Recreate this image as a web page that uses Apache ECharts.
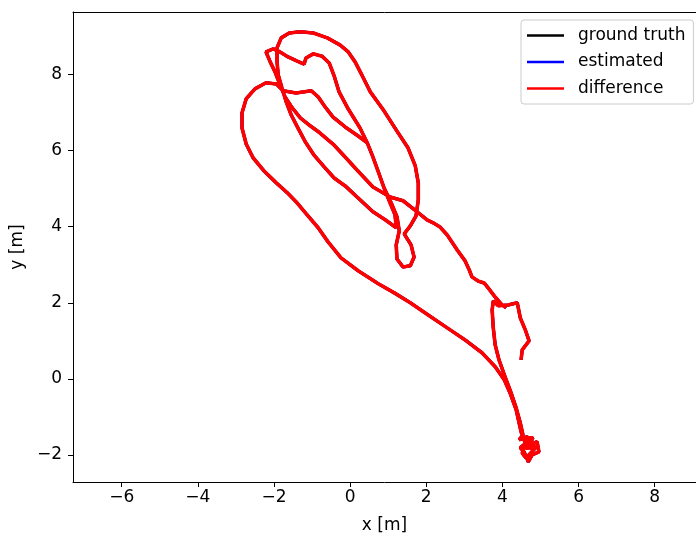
<!DOCTYPE html>
<html>
<head>
<meta charset="utf-8">
<script src="https://cdn.jsdelivr.net/npm/echarts@6/dist/echarts.min.js"></script>
<style>
html,body{margin:0;padding:0;background:#fff;}
#chart{width:696px;height:535px;}
</style>
</head>
<body>
<div id="chart"></div>
<script>
// Tick labels
const xTicks = [-6, -4, -2, 0, 2, 4, 6, 8];
const yTicks = [-2, 0, 2, 4, 6, 8];
const seriesNames = ['ground truth', 'estimated', 'difference'];

// Trajectory segments [x, y] in metres
const segStart = [[4.49,0.50],[4.52,0.76],[4.70,1.00],[4.60,1.29],[4.47,1.60],[4.39,2.00],[4.15,1.94],[3.89,1.92],[3.76,2.05],[3.73,1.81],[3.76,1.34],[3.81,0.89],[3.91,0.50],[4.07,0.05],[4.23,-0.37],[4.36,-0.76],[4.47,-1.16],[4.54,-1.47]];
const segBottom = [[4.44,-1.60],[4.65,-1.52],[4.75,-1.73],[4.91,-1.65],[4.96,-1.92],[4.78,-2.00],[4.68,-2.18],[4.57,-1.92],[4.47,-1.81],[4.73,-1.60],[4.83,-1.87],[4.60,-1.73],[4.52,-1.95],[4.62,-2.08],[4.88,-1.80],[4.70,-1.68],[4.58,-1.55],[4.80,-1.55],[4.66,-1.85],[4.49,-1.39]];
const segDiagonal = [[4.36,-0.81],[4.20,-0.37],[4.05,-0.03],[3.81,0.32],[3.47,0.68],[3.05,1.00],[2.55,1.34],[2.05,1.68],[1.58,2.00],[1.16,2.26],[0.74,2.50],[0.21,2.84],[-0.24,3.18],[-0.58,3.60],[-0.84,3.97],[-1.13,4.31],[-1.39,4.62],[-1.65,4.89],[-1.94,5.15],[-2.26,5.46],[-2.55,5.81],[-2.73,6.17],[-2.84,6.59],[-2.84,6.99],[-2.73,7.36],[-2.50,7.62],[-2.21,7.78],[-1.94,7.75],[-1.76,7.57],[-1.42,7.51],[-1.02,7.57]];
const segInner = [[-0.84,7.41],[-0.66,7.15],[-0.45,6.88],[-0.13,6.62],[0.21,6.38],[0.45,6.20],[0.58,5.88],[0.74,5.44],[0.89,5.02],[1.08,4.62],[1.23,4.26],[1.29,3.89],[1.21,3.52],[1.23,3.15],[1.39,2.94],[1.58,2.97],[1.68,3.20],[1.60,3.52],[1.42,3.81]];
const segOuter = [[1.58,4.02],[1.73,4.28],[1.79,4.70],[1.79,5.15],[1.71,5.60],[1.52,6.07],[1.23,6.51],[0.87,7.07],[0.53,7.54],[0.32,7.96],[0.13,8.33],[-0.05,8.59],[-0.26,8.77],[-0.60,8.96],[-0.97,9.09],[-1.31,9.12],[-1.60,9.09],[-1.81,8.96],[-1.92,8.70],[-1.92,8.33],[-1.89,7.99],[-1.79,7.64],[-1.68,7.28],[-1.55,6.94],[-1.37,6.59],[-1.18,6.23],[-0.95,5.88],[-0.68,5.57],[-0.42,5.28],[-0.13,5.07],[0.18,4.78],[0.60,4.39],[0.92,4.18],[1.21,3.97]];
const segLoop = [[1.18,4.31],[1.05,4.62],[0.89,5.02],[0.74,5.44],[0.58,5.88],[0.45,6.20],[0.26,6.59],[-0.05,7.09],[-0.29,7.54],[-0.42,7.96],[-0.55,8.30],[-0.74,8.48],[-0.97,8.54],[-1.16,8.43],[-1.21,8.27]];
const segHook = [[-1.39,8.35],[-1.63,8.46],[-1.84,8.59],[-2.02,8.67],[-2.21,8.59],[-2.10,8.33],[-1.97,8.06],[-1.84,7.72],[-1.71,7.41],[-1.52,7.12],[-1.31,6.86],[-1.05,6.65],[-0.79,6.46],[-0.45,6.17],[-0.18,5.88],[0.18,5.49],[0.60,5.04]];
const segExit = [[1.05,4.78],[1.39,4.68],[1.76,4.39],[2.02,4.18],[2.18,4.10],[2.36,3.99],[2.55,3.78],[2.81,3.39],[3.02,3.10],[3.13,2.86],[3.20,2.68],[3.36,2.57],[3.52,2.52],[3.65,2.36],[3.81,2.15],[3.99,1.94],[4.10,1.87]];

const groundTruth = [].concat(segStart, segBottom, segDiagonal, segInner, segOuter, segLoop, segHook, segExit);
const estimated = groundTruth;
const difference = groundTruth;

const minus = v => String(v).replace('-', '\u2212');
const font = 'DejaVu Sans';
const FS = 17;

const chart = echarts.init(document.getElementById('chart'), null, {renderer: 'canvas'});
chart.setOption({
  animation: false,
  backgroundColor: '#ffffff',
  textStyle: {fontFamily: font},
  grid: {left: 73, right: 0, top: 12, bottom: 53, show: false, containLabel: false, outerBoundsMode: 'none'},
  legend: {
    orient: 'vertical', left: 521, top: 20,
    padding: [6, 8, 6, 6], itemGap: 7.5, itemWidth: 37, itemHeight: 2.5,
    backgroundColor: 'rgba(255,255,255,0.8)', borderColor: '#cccccc', borderWidth: 1, borderRadius: 3,
    textStyle: {fontFamily: font, fontSize: FS, color: '#000', lineHeight: 19, padding: [0, 0, 0, 9]},
    data: seriesNames.map(n => ({name: n, icon: 'rect'}))
  },
  xAxis: [{
    type: 'value', min: -7.28, max: 9.085,
    name: 'x [m]', nameLocation: 'middle', nameGap: 35,
    nameTextStyle: {fontFamily: font, fontSize: FS, color: '#000'},
    axisLine: {show: true, onZero: false, lineStyle: {color: '#000', width: 1}},
    axisTick: {show: true, length: 5, customValues: xTicks, lineStyle: {color: '#000'}},
    axisLabel: {customValues: xTicks, formatter: minus, fontFamily: font, fontSize: FS, color: '#000', margin: 7},
    splitLine: {show: false}
  }, {
    type: 'value', position: 'top', min: -7.28, max: 9.085,
    axisLine: {show: true, onZero: false, lineStyle: {color: '#000', width: 1}},
    axisTick: {show: false}, axisLabel: {show: false}, splitLine: {show: false}
  }],
  yAxis: {
    type: 'value', min: -2.71, max: 9.64,
    name: 'y [m]', nameLocation: 'middle', nameGap: 44, nameRotate: 90,
    nameTextStyle: {fontFamily: font, fontSize: FS, color: '#000'},
    axisLine: {show: true, onZero: false, lineStyle: {color: '#000', width: 1}},
    axisTick: {show: true, length: 5, customValues: yTicks, lineStyle: {color: '#000'}},
    axisLabel: {customValues: yTicks, formatter: minus, fontFamily: font, fontSize: FS, color: '#000', margin: 11},
    splitLine: {show: false}
  },
  series: [
    {name: seriesNames[0], type: 'line', data: groundTruth, symbol: 'none', lineStyle: {color: '#000000', width: 3}, itemStyle: {color: '#000000'}},
    {name: seriesNames[1], type: 'line', data: estimated, symbol: 'none', lineStyle: {color: '#0000ff', width: 3}, itemStyle: {color: '#0000ff'}},
    {name: seriesNames[2], type: 'line', data: difference, symbol: 'none', lineStyle: {color: '#ff0000', width: 3.6}, itemStyle: {color: '#ff0000'}}
  ]
});
</script>
</body>
</html>
